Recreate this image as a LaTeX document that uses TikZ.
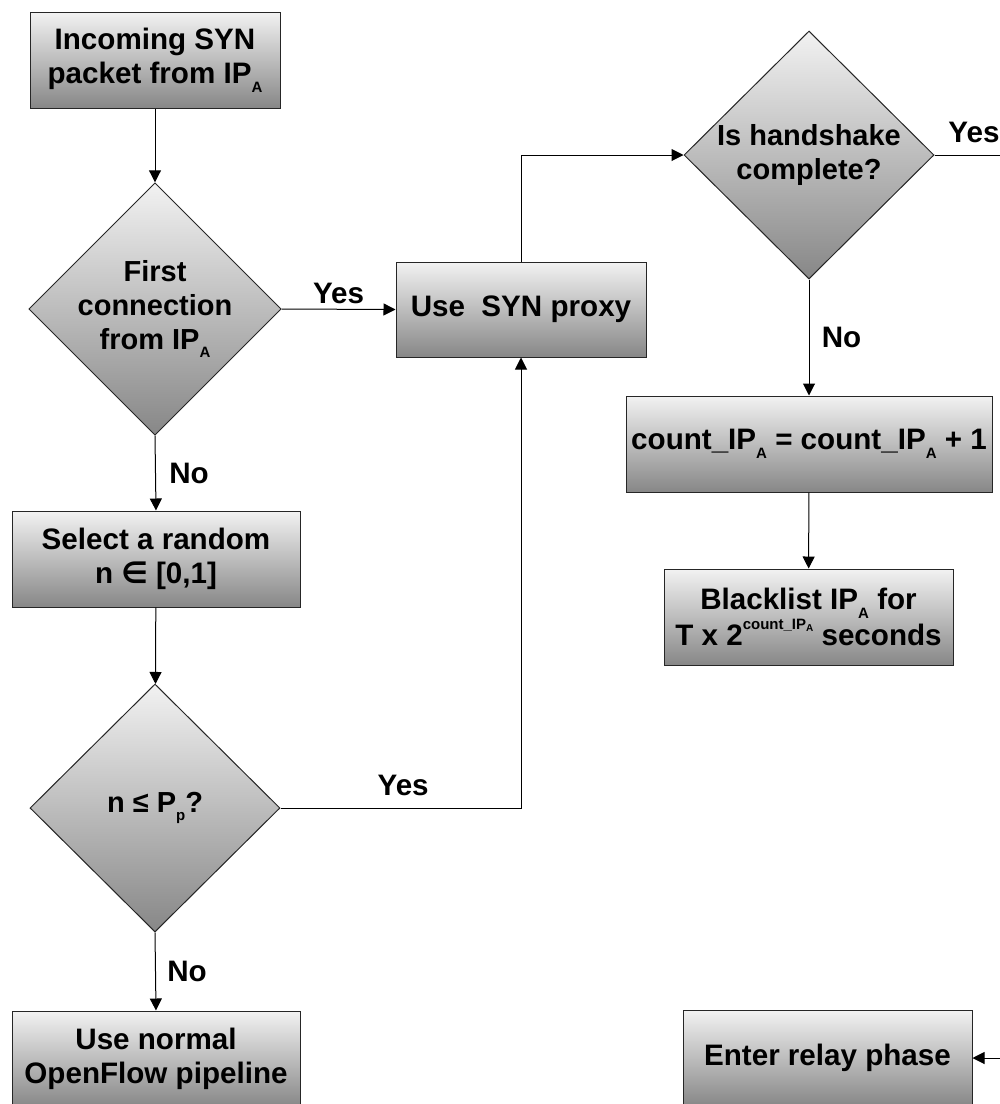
\documentclass[tikz,border=0pt]{standalone}
\usepackage{fontspec}
\setmainfont{Liberation Sans}
\newfontfamily\djv{DejaVu Sans}
\usetikzlibrary{shapes.geometric,arrows.meta}
\definecolor{shtop}{HTML}{F2F2F2}
\definecolor{shbot}{HTML}{878787}
\newcommand{\sbs}[1]{\raisebox{-0.3em}{\fontsize{15}{15}\selectfont #1}}
\begin{document}
\begin{tikzpicture}[x=1pt,y=-1pt,
  every node/.style={font=\fontsize{29.6}{34}\selectfont\bfseries, align=center},
  procbox/.style={rectangle, draw=black!85, line width=1pt, top color=shtop, bottom color=shbot, minimum height=96pt, inner sep=0pt},
  decbox/.style={diamond, draw=black!85, line width=1pt, top color=shtop, bottom color=shbot, minimum width=250pt, minimum height=248pt, inner sep=0pt, aspect=1, font=\fontsize{29}{34}\selectfont\bfseries},
  flow/.style={line width=1pt, -{Triangle[width=12pt,length=12pt]}},
  plain/.style={line width=1pt}]
\useasboundingbox (0,0) rectangle (1000,1104);

\node[procbox, minimum width=250pt] (inc) at (155,60) {Incoming SYN\\packet from IP\sbs{A}};
\node[decbox] (d1) at (155,309) {First\\connection\\from IP\sbs{A}};
\node[procbox, minimum width=288pt] (sel) at (156,559) {Select a random\\n {\djv ∈} [0,1]};
\node[decbox] (d3) at (155,808) {n ≤ P\sbs{p}?};
\node[procbox, minimum width=288pt] (norm) at (156,1059) {Use normal\\OpenFlow pipeline};

\node[procbox, minimum width=250pt, minimum height=95pt] (syn) at (521,309.5) {Use~\ SYN proxy};
\node[decbox] (d2) at (809,155) {Is handshake\\complete?};
\node[procbox, minimum width=366pt] (cnt) at (809,444) {count\_IP\sbs{A} = count\_IP\sbs{A} + 1};
\node[procbox, minimum width=289pt] (bl) at (808.5,617) {Blacklist IP\sbs{A} for\\T x 2\raisebox{0.55em}{\fontsize{15}{15}\selectfont count\_IP\raisebox{-0.1em}{\fontsize{10}{10}\selectfont A}} seconds};
\node[procbox, minimum width=289pt] (relay) at (827.5,1058) {Enter relay phase};

\coordinate (rr) at (1030,155);

\draw[flow] (inc) -- (d1);
\draw[flow] (d1.east) -- (syn.west) node[midway, above=2pt] {Yes};
\draw[flow] (d1.south) -- (sel.north) node[midway, right=10pt] {No};
\draw[flow] (sel) -- (d3);
\draw[flow] (d3.east) -| (syn.south) node[pos=0.255, above=8pt] {Yes};
\draw[flow] (d3.south) -- (norm.north) node[midway, right=8pt] {No};
\draw[flow] (syn.north) |- (d2.west);
\draw[flow] (d2.south) -- (cnt.north) node[midway, right=9pt] {No};
\draw[flow] (cnt) -- (bl);
\draw[flow] (d2.east) -- (rr) |- (relay.east);
\node at (974,132) {Yes};
\end{tikzpicture}
\end{document}
